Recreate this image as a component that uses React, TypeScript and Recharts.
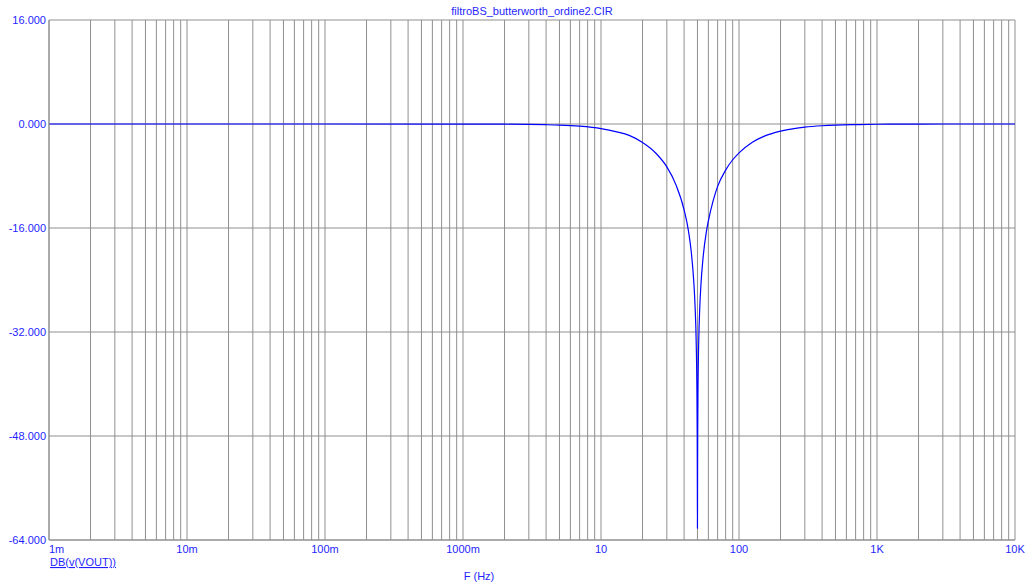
import React from "react";
import { LineChart, Line, XAxis, YAxis, CartesianGrid } from "recharts";

// frequency sweep (Hz) and magnitude of v(VOUT) in dB
const freqHz = [
  0.001, 0.01, 0.1, 1, 2, 3, 4, 5, 7, 10, 13, 16, 20, 25, 30, 35, 40, 43, 45, 47, 48, 49, 49.5, 49.8,
  49.9, 50, 50.1, 50.2, 50.5, 51, 52, 53, 55, 58, 60, 65, 70, 80, 90, 100, 125, 150, 200, 250, 300,
  400, 500, 700, 1000, 2000, 5000, 10000,
];
const gainDb = [
  0, 0, 0, -0.01, -0.03, -0.06, -0.11, -0.17, -0.34, -0.7, -1.2, -1.75, -2.85, -4.5, -6.6, -9.4, -13.2,
  -16.4, -19.5, -24.2, -27.8, -33.9, -40, -47.9, -54, -62.2, -54, -48, -40, -34, -28.1, -24.7, -20.4,
  -16.6, -14.9, -11.8, -9.6, -7.1, -5.5, -4.45, -2.8, -1.95, -1.1, -0.7, -0.48, -0.27, -0.17, -0.09,
  -0.04, -0.01, 0, 0,
];

const decades = [0.001, 0.01, 0.1, 1, 10, 100, 1000, 10000];
const decadeLabels = ["1m", "10m", "100m", "1000m", "10", "100", "1K", "10K"];
const gridSteps = [1, 2, 3, 4, 5, 6, 7, 8, 9];
const yTicks = [-64, -48, -32, -16, 0, 16];

const title = "filtroBS_butterworth_ordine2.CIR";
const traceName = "DB(v(VOUT))";
const xName = "F (Hz)";

const rows = freqHz.map((f, i) => ({ f, db: gainDb[i] }));

const xTicks = decades
  .slice(0, -1)
  .flatMap((d) => gridSteps.map((m) => Number((d * m).toPrecision(6))))
  .concat([decades[decades.length - 1]]);

const BLUE = "#1f1fff";
const GRID = "#8f8f8f";
const FONT = "'Liberation Sans', Arial, sans-serif";

const decadeIndex = (v: number) => decades.findIndex((d) => Math.abs(v / d - 1) < 1e-6);

const XTick = (props: any) => {
  const { x, y, payload } = props;
  const idx = decadeIndex(payload.value);
  if (idx < 0) return null;
  return (
    <text
      x={x}
      y={y}
      dy="0.71em"
      textAnchor={idx === 0 ? "start" : "middle"}
      fill={BLUE}
      fontSize={11}
      fontFamily={FONT}
    >
      {decadeLabels[idx]}
    </text>
  );
};

const YTick = (props: any) => {
  const { x, y, payload } = props;
  return (
    <text x={x} y={y} dy="0.35em" textAnchor="end" fill={BLUE} fontSize={11} fontFamily={FONT}>
      {payload.value.toFixed(3)}
    </text>
  );
};

export default function App() {
  return (
    <div style={{ position: "absolute", left: 0, top: 0, width: 1030, height: 588, background: "#fff" }}>
      <LineChart width={1030} height={588} data={rows} margin={{ top: 20, right: 15, bottom: 0, left: 0 }}>
        <CartesianGrid stroke={GRID} strokeWidth={1} />
        <XAxis
          dataKey="f"
          type="number"
          scale="log"
          domain={[0.001, 10000]}
          allowDataOverflow
          ticks={xTicks}
          interval={0}
          height={48}
          tickSize={0}
          tickMargin={5}
          tickLine={false}
          axisLine={{ stroke: GRID }}
          tick={<XTick />}
        />
        <YAxis
          type="number"
          domain={[-64, 16]}
          allowDataOverflow
          ticks={yTicks}
          interval={0}
          width={49}
          tickSize={0}
          tickMargin={3}
          tickLine={false}
          axisLine={{ stroke: GRID }}
          tick={<YTick />}
        />
        <Line
          dataKey="db"
          type="monotone"
          stroke="#0000ff"
          strokeWidth={1.2}
          dot={false}
          isAnimationActive={false}
        />
      </LineChart>
      <svg
        width={1030}
        height={588}
        style={{ position: "absolute", left: 0, top: 0, pointerEvents: "none" }}
        fontFamily={FONT}
        fontSize={11}
        fill={BLUE}
      >
        <text x={532} y={15} textAnchor="middle">
          {title}
        </text>
        <text x={50} y={566} style={{ textDecoration: "underline" }}>
          {traceName}
        </text>
        <text x={479} y={580} textAnchor="middle">
          {xName}
        </text>
      </svg>
    </div>
  );
}
